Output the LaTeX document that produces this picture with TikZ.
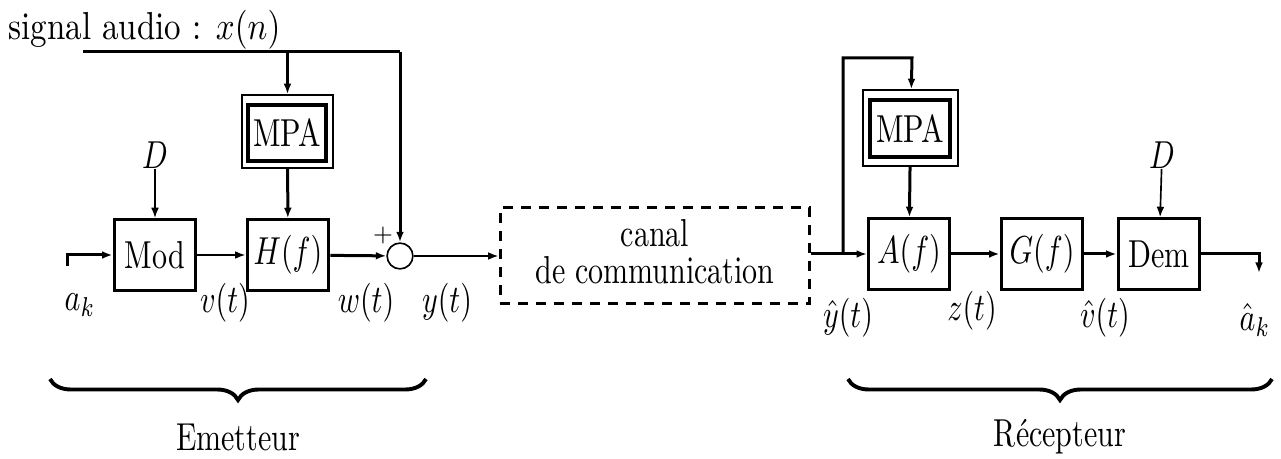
\documentclass[tikz,border=0pt]{standalone}
\usepackage{fontspec}
\usepackage{graphicx}
\usetikzlibrary{arrows.meta,decorations.pathreplacing,calc}
\newcommand{\vs}[1]{\scalebox{1}[1.3]{#1}}
\begin{document}
\begin{tikzpicture}[x=0.3333pt,y=-0.3333pt,
  thk/.style={line width=1pt},
  thn/.style={line width=0.55pt},
  arr/.style={-{Latex[length=3.5pt,width=2.6pt]}},
  blk/.style={draw,line width=1pt,minimum width=27.3pt,minimum height=23.5pt,inner sep=0pt},
  mpaout/.style={draw,line width=0.55pt,inner sep=0pt},
  mpain/.style={draw,line width=1.2pt,inner sep=0pt},
  lbl/.style={inner sep=0pt},
  brc/.style={decorate,decoration={brace,mirror,amplitude=7pt},line width=1.3pt}]
\useasboundingbox (0,0) rectangle (1281,459);
% emitter
\node[lbl,anchor=base west] (sig) at (8,40) {\scalebox{1.1}[1.3]{signal audio : $x(n)$}};
\node[blk] (mod) at (155,255) {\vs{Mod}};
\node[blk] (hf) at (288,255) {\vs{$H(f)$}};
\node[mpaout,minimum width=30.3pt,minimum height=24.3pt] (mpa1o) at (287.5,131.5) {};
\node[mpain,minimum width=26pt,minimum height=18.7pt] (mpa1) at (287,133) {\vs{MPA}};
\node[draw,thn,circle,minimum size=8.6pt,inner sep=0pt] (sum) at (400,256) {};
\node[lbl,font=\footnotesize] (plus) at (383,236) {$+$};
\node[lbl] (d1) at (155,155) {\vs{$D$}};
\coordinate (in0) at (67,266);
\coordinate (xs) at (83,52);
% channel
\node[draw,line width=1pt,dash pattern=on 3.4pt off 2.6pt,minimum width=103.3pt,minimum height=31.7pt,inner sep=0pt] (canal) at (655,255.5) {\vs{\begin{tabular}{@{}c@{}}canal\\[-2.6pt]de communication\end{tabular}}};
% receiver
\node[mpaout,minimum width=31.7pt,minimum height=25.3pt] (mpa2o) at (910.5,128) {};
\node[mpain,minimum width=26.7pt,minimum height=19pt] (mpa2) at (910,128.5) {\vs{MPA}};
\node[blk,minimum width=27pt] (af) at (909,254) {\vs{$A(f)$}};
\node[blk] (gf) at (1042,254) {\vs{$G(f)$}};
\node[blk] (dem) at (1159,254) {\vs{Dem}};
\node[lbl] (d2) at (1162,155) {\vs{$D$}};
\coordinate (br) at (843,254);
\coordinate (tp) at (912,58);
\coordinate (out) at (1259,273);
% connectors emitter
\draw[thk,arr] (in0) |- (mod);
\draw[thn,arr] (mod) -- (hf);
\draw[thk,arr] (hf) -- (sum);
\draw[thn,arr] (d1) -- (mod);
\draw[thk] (xs) -- (xs -| sum);
\draw[thk,arr] (xs -| sum) -- (sum);
\draw[thk,arr] (xs -| mpa1o) -- (mpa1o);
\draw[thk,arr] (mpa1o) -- (hf);
\draw[thn,arr] (sum) -- (sum -| canal.west);
% connectors receiver
\draw[thk,arr] (canal.east |- af) -- (af);
\draw[thk,arr] (br) |- (tp) -- (mpa2o);
\draw[thk,arr] (mpa2o) -- (af);
\draw[thk,arr] (af) -- (gf);
\draw[thk,arr] (gf) -- (dem);
\draw[thn,arr] (d2) -- (dem);
\draw[thk,arr] (dem) -| (out);
% signal labels
\node[lbl] (ak) at (80,305) {\vs{$a_k$}};
\node[lbl] (vt) at (225,303) {\vs{$v(t)$}};
\node[lbl] (wt) at (366,303) {\vs{$w(t)$}};
\node[lbl] (yt) at (447,303) {\vs{$y(t)$}};
\node[lbl] (yh) at (848,318) {\vs{$\hat{y}(t)$}};
\node[lbl] (zt) at (972,311) {\vs{$z(t)$}};
\node[lbl] (vh) at (1105,318) {\vs{$\hat{v}(t)$}};
\node[lbl] (ah) at (1255,320) {\vs{$\hat{a}_k$}};
% braces
\draw[brc] (50,379) -- (426,379);
\draw[brc] (848,379) -- (1272,379);
\node[lbl] (em) at (238,437) {\vs{Emetteur}};
\node[lbl] (re) at (1060,437) {\vs{Récepteur}};
\end{tikzpicture}
\end{document}
